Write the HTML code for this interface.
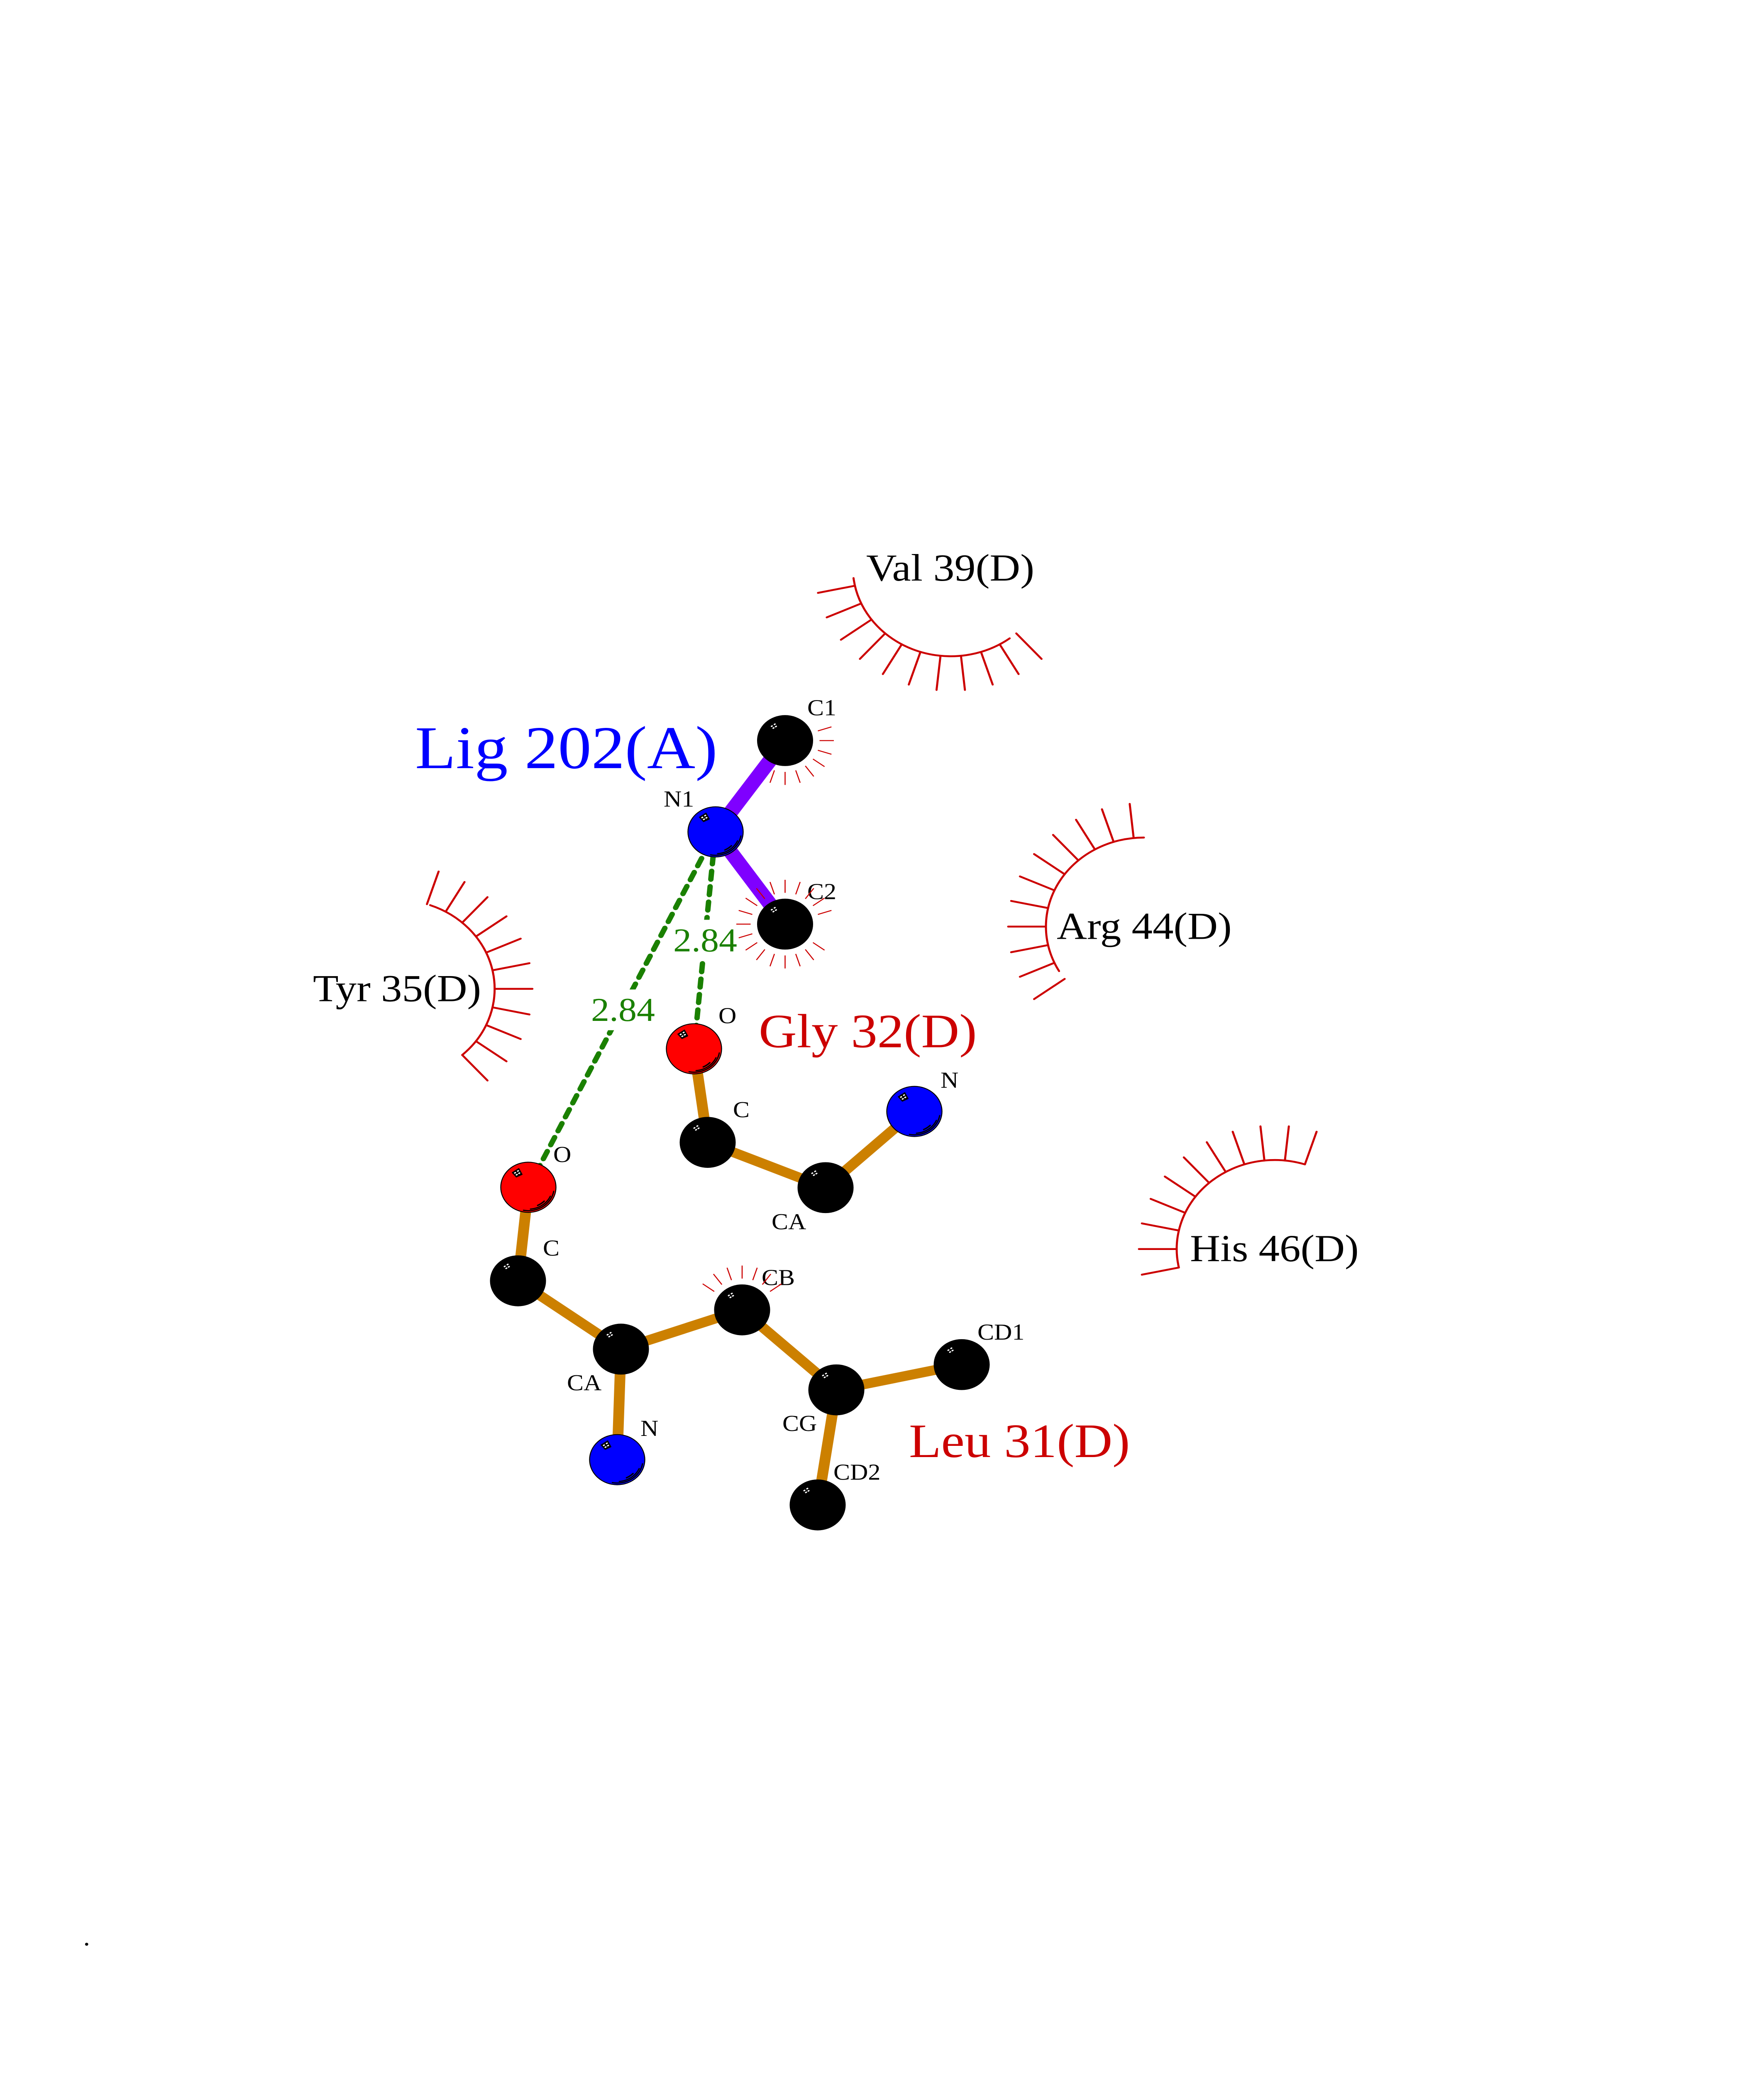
<!DOCTYPE html>
<html><head><meta charset="utf-8"><title>Ligand interaction diagram</title>
<style>html,body{margin:0;padding:0;background:#fff;width:100%;height:100%;overflow:hidden}svg{display:block;position:absolute;left:0;top:0;width:100vw;height:100vh}
text{font-family:"Liberation Serif",serif}
.l{font-size:60px;fill:#000}.r{font-size:101px;fill:#000}.g{font-size:127px;fill:#c00}.d{font-size:88px;fill:#1a8000}
.b{stroke:#cc8000;stroke-width:26;fill:none}.p{stroke:#7f00ff;stroke-width:36;fill:none}
.h{stroke:#1a8000;stroke-width:13;stroke-linecap:round;stroke-dasharray:22 19;fill:none}
.a{stroke:#c00;stroke-width:5;stroke-linecap:round;fill:none}
.s{stroke:#c00;stroke-width:2.6;fill:none}
</style></head><body>
<svg xmlns="http://www.w3.org/2000/svg" viewBox="0 0 4250 5500" preserveAspectRatio="none">
<defs>
<line id="sp" class="a" x1="-236" y1="0" x2="-327" y2="0"/>
<line id="ss" class="s" x1="83" y1="0" x2="117.5" y2="0"/>
<g id="dots" fill="#fff">
<rect x="-34.5" y="-40" width="5" height="3.4" rx="1" transform="rotate(-32 -32 -38.3)"/>
<rect x="-27.5" y="-45" width="5" height="3.4" rx="1" transform="rotate(-32 -25 -43.3)"/>
<rect x="-24.5" y="-39" width="5" height="3.4" rx="1" transform="rotate(-32 -22 -37.3)"/>
<rect x="-30.5" y="-35" width="5" height="3.4" rx="1" transform="rotate(-32 -28 -33.3)"/>
</g>
<g id="cAtom"><circle r="67.5" fill="#000"/><use href="#dots"/></g>
<g id="mark">
<path d="M-39 -39L-23 -50L-15 -34L-29 -27Z" fill="#000" stroke="#000" stroke-width="2" stroke-linejoin="round"/>
<use href="#dots"/>
<circle r="66.5" fill="none" stroke="#000" stroke-width="2.4"/>
<g fill="none" stroke="#000" stroke-linecap="round">
<path d="M61 10.8A62 62 0 0 1 -11.8 60.9" stroke-width="3"/>
<path d="M53 23.6A58 58 0 0 1 5 57.8" stroke-width="3"/>
<path d="M38.1 36.8A53 53 0 0 1 22.4 48" stroke-width="3.6"/>
</g>
</g>
</defs>

<rect width="4250" height="5500" fill="#fff"/>

<!-- ligand bonds -->
<line class="p" x1="1724" y1="2205" x2="1891.5" y2="1963"/>
<line class="p" x1="1724" y1="2205" x2="1891.5" y2="2449.5"/>

<!-- Gly bonds -->
<polyline class="b" points="1672,2780 1705,3028 1989,3148 2203,2946"/>
<!-- Leu bonds -->
<polyline class="b" points="1273,3147 1248,3395 1496,3576 1487,3869"/>
<polyline class="b" points="1496,3576 1788,3472 2015,3684 2317,3617"/>
<line class="b" x1="2015" y1="3684" x2="1970" y2="3989"/>

<!-- hydrogen bonds -->
<line class="h" x1="1273" y1="3147" x2="1724" y2="2205" stroke-dashoffset="-1.6"/>
<line class="h" x1="1672" y1="2780" x2="1724" y2="2205"/>

<!-- distance labels -->
<rect x="1622" y="2438" width="153" height="109" fill="#fff"/>
<text class="d" x="1622" y="2522">2.84</text>
<rect x="1424" y="2622.7" width="152" height="108" fill="#fff"/>
<text class="d" x="1424" y="2706">2.84</text>

<!-- residue labels -->
<text x="1000" y="2036" style="font-size:161px;fill:#00f">Lig 202(A)</text>
<text class="g" x="1828" y="2776">Gly 32(D)</text>
<text class="g" x="2190" y="3862">Leu 31(D)</text>
<text class="r" x="2087" y="1539" style="font-size:102px">Val 39(D)</text>
<text class="r" x="754" y="2654">Tyr 35(D)</text>
<text class="r" x="2546" y="2489">Arg 44(D)</text>
<text class="r" x="2867" y="3343">His 46(D)</text>

<!-- atom labels -->
<text class="l" x="1945" y="1896">C1</text>
<text class="l" x="1599" y="2138">N1</text>
<text class="l" x="1945" y="2383">C2</text>
<text class="l" x="1731" y="2712">O</text>
<text class="l" x="1766" y="2961">C</text>
<text class="l" x="1859" y="3258">CA</text>
<text class="l" x="2266" y="2883">N</text>
<text class="l" x="1333" y="3080">O</text>
<text class="l" x="1308" y="3328">C</text>
<text class="l" x="1366" y="3685">CA</text>
<text class="l" x="1543" y="3806">N</text>
<text class="l" x="1835" y="3406">CB</text>
<text class="l" x="1885" y="3793">CG</text>
<text class="l" x="2355" y="3551">CD1</text>
<text class="l" x="2008" y="3922">CD2</text>
<text class="l" x="200.5" y="5156" style="font-size:66px">.</text>

<!-- Arg 44 eyelash -->
<g transform="translate(2756 2456)">
<path class="a" d="M-204.4 118A236 236 0 0 1 0 -236"/>
<use href="#sp" transform="rotate(-36)"/><use href="#sp" transform="rotate(-24)"/><use href="#sp" transform="rotate(-12)"/><use href="#sp"/><use href="#sp" transform="rotate(12)"/><use href="#sp" transform="rotate(24)"/><use href="#sp" transform="rotate(36)"/><use href="#sp" transform="rotate(48)"/><use href="#sp" transform="rotate(60)"/><use href="#sp" transform="rotate(72)"/><use href="#sp" transform="rotate(84)"/>
</g>
<!-- His 46 eyelash -->
<g transform="translate(3071 3310.7)">
<path class="a" d="M-230.8 49A236 236 0 0 1 72.9 -224.4"/>
<use href="#sp" transform="rotate(-12)"/><use href="#sp"/><use href="#sp" transform="rotate(12)"/><use href="#sp" transform="rotate(24)"/><use href="#sp" transform="rotate(36)"/><use href="#sp" transform="rotate(48)"/><use href="#sp" transform="rotate(60)"/><use href="#sp" transform="rotate(72)"/><use href="#sp" transform="rotate(84)"/><use href="#sp" transform="rotate(96)"/><use href="#sp" transform="rotate(108)"/>
</g>
<!-- Val 39 eyelash -->
<g transform="translate(2290.6 1503.5)">
<path class="a" d="M-234.2 28.8A236 236 0 0 0 142 188.5"/>
<use href="#sp" transform="rotate(-12)"/><use href="#sp" transform="rotate(-24)"/><use href="#sp" transform="rotate(-36)"/><use href="#sp" transform="rotate(-48)"/><use href="#sp" transform="rotate(-60)"/><use href="#sp" transform="rotate(-72)"/><use href="#sp" transform="rotate(-84)"/><use href="#sp" transform="rotate(-96)"/><use href="#sp" transform="rotate(-108)"/><use href="#sp" transform="rotate(-120)"/><use href="#sp" transform="rotate(-132)"/>
</g>
<!-- Tyr 35 eyelash -->
<g transform="translate(955.7 2621)">
<path class="a" d="M80.7 -221.8A236 236 0 0 1 157.9 175.4"/>
<use href="#sp" transform="rotate(108)"/><use href="#sp" transform="rotate(120)"/><use href="#sp" transform="rotate(132)"/><use href="#sp" transform="rotate(144)"/><use href="#sp" transform="rotate(156)"/><use href="#sp" transform="rotate(168)"/><use href="#sp" transform="rotate(180)"/><use href="#sp" transform="rotate(192)"/><use href="#sp" transform="rotate(204)"/><use href="#sp" transform="rotate(216)"/><use href="#sp" transform="rotate(228)"/>
</g>

<!-- small lashes -->
<g transform="translate(1891.5 1963)">
<use href="#ss" transform="rotate(-18)"/><use href="#ss"/><use href="#ss" transform="rotate(18)"/><use href="#ss" transform="rotate(36)"/><use href="#ss" transform="rotate(54)"/><use href="#ss" transform="rotate(72)"/><use href="#ss" transform="rotate(90)"/><use href="#ss" transform="rotate(108)"/>
</g>
<g transform="translate(1891.5 2449.5)">
<use href="#ss" transform="rotate(36)"/><use href="#ss" transform="rotate(54)"/><use href="#ss" transform="rotate(72)"/><use href="#ss" transform="rotate(90)"/><use href="#ss" transform="rotate(108)"/><use href="#ss" transform="rotate(126)"/><use href="#ss" transform="rotate(144)"/><use href="#ss" transform="rotate(162)"/><use href="#ss" transform="rotate(180)"/><use href="#ss" transform="rotate(198)"/><use href="#ss" transform="rotate(216)"/><use href="#ss" transform="rotate(234)"/><use href="#ss" transform="rotate(252)"/><use href="#ss" transform="rotate(270)"/><use href="#ss" transform="rotate(288)"/><use href="#ss" transform="rotate(306)"/><use href="#ss" transform="rotate(324)"/><use href="#ss" transform="rotate(342)"/>
</g>
<g transform="translate(1788 3472)">
<use href="#ss" transform="rotate(-36)"/><use href="#ss" transform="rotate(-54)"/><use href="#ss" transform="rotate(-72)"/><use href="#ss" transform="rotate(-90)"/><use href="#ss" transform="rotate(-108)"/><use href="#ss" transform="rotate(-126)"/><use href="#ss" transform="rotate(-144)"/>
</g>

<!-- atoms -->
<use href="#cAtom" x="1891.5" y="1963"/>
<use href="#cAtom" x="1891.5" y="2449.5"/>
<use href="#cAtom" x="1705" y="3028"/>
<use href="#cAtom" x="1989" y="3148"/>
<use href="#cAtom" x="1248" y="3395"/>
<use href="#cAtom" x="1496" y="3576"/>
<use href="#cAtom" x="1788" y="3472"/>
<use href="#cAtom" x="2015" y="3684"/>
<use href="#cAtom" x="2317" y="3617"/>
<use href="#cAtom" x="1970" y="3989"/>

<circle cx="1724" cy="2205" r="67" fill="#00f"/><use href="#mark" x="1724" y="2205"/>
<circle cx="2203" cy="2946" r="67" fill="#00f"/><use href="#mark" x="2203" y="2946"/>
<circle cx="1487" cy="3869" r="67" fill="#00f"/><use href="#mark" x="1487" y="3869"/>
<circle cx="1672" cy="2780" r="67" fill="#f00"/><use href="#mark" x="1672" y="2780"/>
<circle cx="1273" cy="3147" r="67" fill="#f00"/><use href="#mark" x="1273" y="3147"/>
</svg>
</body></html>
